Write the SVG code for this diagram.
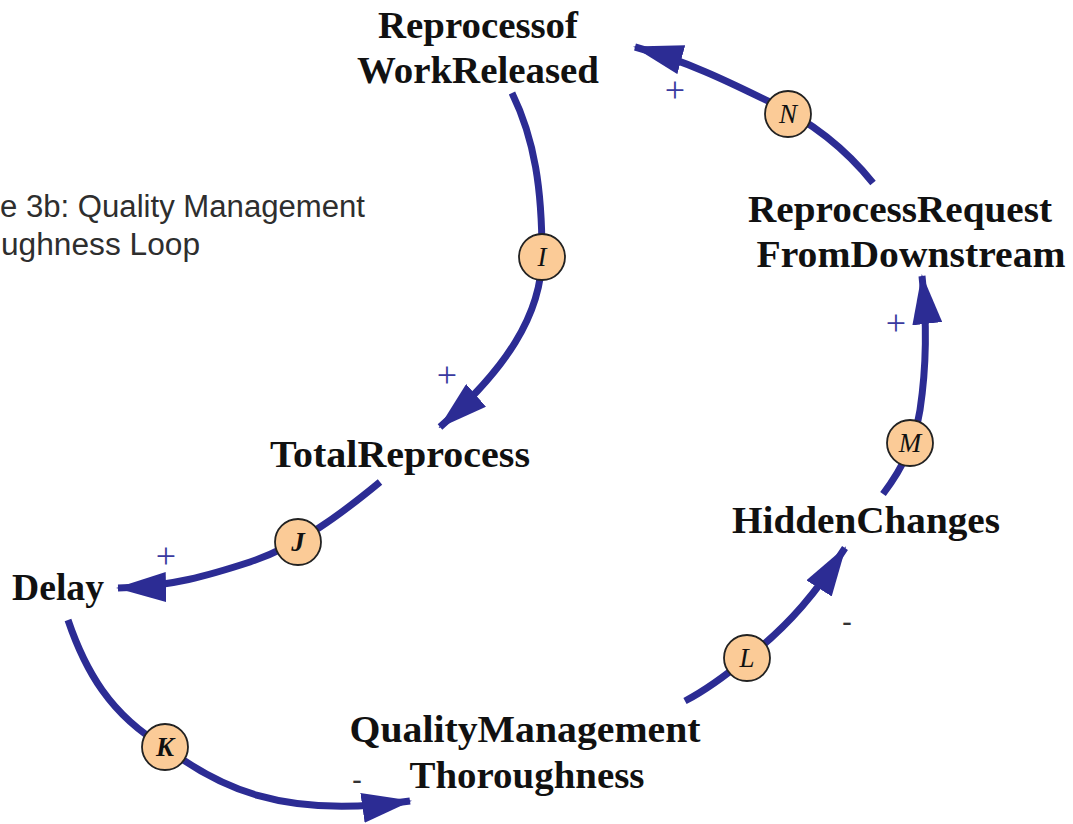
<svg xmlns="http://www.w3.org/2000/svg" width="1073" height="824" viewBox="0 0 1073 824">
<style>
.lbl{font-family:"Liberation Serif","Times New Roman",serif;font-weight:bold;font-size:38px;fill:#111;text-anchor:middle}
.cap{font-family:"Liberation Sans",Arial,sans-serif;font-size:31px;fill:#2e2e2e}
.link{fill:none;stroke:#2c2c94;stroke-width:7;stroke-linecap:butt}
.dot{fill:#fbcb97;stroke:#222;stroke-width:1.8}
.let{font-family:"Liberation Serif","Times New Roman",serif;font-style:italic;font-size:27px;fill:#111;text-anchor:middle}
.plus{font-family:"Liberation Serif","Times New Roman",serif;font-size:36px;fill:#3a3aa0;text-anchor:middle}
.minus{font-family:"Liberation Sans",Arial,sans-serif;font-size:30px;fill:#333;text-anchor:middle}
</style>
<defs>
<marker id="ah" viewBox="0 0 50 30" refX="48" refY="15" markerWidth="50" markerHeight="30" markerUnits="userSpaceOnUse" orient="auto">
<path d="M0,0 L50,15 L0,30 Z" fill="#2c2c94"/>
</marker>
</defs>
<rect width="1073" height="824" fill="#ffffff"/>
<g id="caption">
<text class="cap" x="0" y="217" textLength="365" lengthAdjust="spacingAndGlyphs">e 3b: Quality Management</text>
<text class="cap" x="1" y="255" textLength="199" lengthAdjust="spacingAndGlyphs">ughness Loop</text>
</g>
<g id="connectors">
<path class="link" marker-end="url(#ah)" d="M512,93 C535,140 542,190 542,255 C542,315 505,370 440,427"/>
<path class="link" marker-end="url(#ah)" d="M380,482 C340,515 300,545 250,562 C210,575 170,587 118,588"/>
<path class="link" marker-end="url(#ah)" d="M68,620 C85,670 110,715 165,747 C215,785 280,820 410,801"/>
<path class="link" marker-end="url(#ah)" d="M685,701 C710,688 730,672 747,658 C790,625 818,590 845,548"/>
<path class="link" marker-end="url(#ah)" d="M883,494 C905,465 915,440 920,410 C926,370 928,330 922,276"/>
<path class="link" marker-end="url(#ah)" d="M873,183 C845,148 812,122 770,102 C735,85 690,62 635,47"/>
<text class="plus" x="447" y="387">+</text>
<text class="plus" x="166" y="568">+</text>
<text class="minus" x="357" y="790">-</text>
<text class="minus" x="847" y="632">-</text>
<text class="plus" x="896" y="335">+</text>
<text class="plus" x="675" y="102">+</text>
<g id="link-I"><circle class="dot" cx="542" cy="257" r="23"/><text class="let" x="542" y="266">I</text></g>
<g id="link-J"><circle class="dot" cx="298" cy="542" r="23"/><text class="let" x="298" y="551" font-weight="bold">J</text></g>
<g id="link-K"><circle class="dot" cx="165" cy="747" r="23"/><text class="let" x="165" y="756" font-weight="bold">K</text></g>
<g id="link-L"><circle class="dot" cx="747" cy="658" r="23"/><text class="let" x="747" y="667">L</text></g>
<g id="link-M"><circle class="dot" cx="910" cy="443" r="23"/><text class="let" x="910" y="452">M</text></g>
<g id="link-N"><circle class="dot" cx="788" cy="114" r="23"/><text class="let" x="788" y="123">N</text></g>
</g>
<g id="node-reprocess-of-work-released">
<text class="lbl" x="478" y="38" textLength="200" lengthAdjust="spacingAndGlyphs">Reprocessof</text>
<text class="lbl" x="478" y="83" textLength="242" lengthAdjust="spacingAndGlyphs">WorkReleased</text>
</g>
<g id="node-reprocess-request">
<text class="lbl" x="900" y="222" textLength="304" lengthAdjust="spacingAndGlyphs">ReprocessRequest</text>
<text class="lbl" x="911" y="267" textLength="309" lengthAdjust="spacingAndGlyphs">FromDownstream</text>
</g>
<g id="node-total-reprocess">
<text class="lbl" x="400" y="467" textLength="260" lengthAdjust="spacingAndGlyphs">TotalReprocess</text>
</g>
<g id="node-delay">
<text class="lbl" x="58" y="600" textLength="92" lengthAdjust="spacingAndGlyphs">Delay</text>
</g>
<g id="node-hidden-changes">
<text class="lbl" x="866" y="533" textLength="268" lengthAdjust="spacingAndGlyphs">HiddenChanges</text>
</g>
<g id="node-quality-management">
<text class="lbl" x="525" y="742" textLength="351" lengthAdjust="spacingAndGlyphs">QualityManagement</text>
<text class="lbl" x="527" y="788" textLength="235" lengthAdjust="spacingAndGlyphs">Thoroughness</text>
</g>
</svg>
